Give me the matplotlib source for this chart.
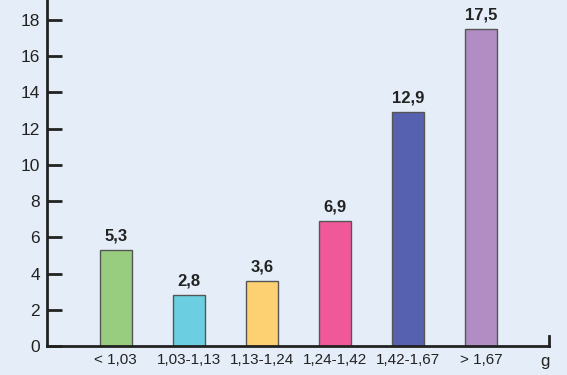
import matplotlib.pyplot as plt

categories = ["< 1,03", "1,03-1,13", "1,13-1,24", "1,24-1,42", "1,42-1,67", "> 1,67"]
values = [5.3, 2.8, 3.6, 6.9, 12.9, 17.5]
value_labels = ["5,3", "2,8", "3,6", "6,9", "12,9", "17,5"]
colors = ["#98cd80", "#6bcfe1", "#fdd072", "#f0589a", "#5661b0", "#b18dc4"]
yticks = [0, 2, 4, 6, 8, 10, 12, 14, 16, 18]

bg = "#e5eef8"
plt.rcParams["font.family"] = ["Liberation Sans", "DejaVu Sans"]

fig = plt.figure(figsize=(5.67, 3.75), dpi=100, facecolor=bg)
ax = fig.add_axes([0.083, 0.0773, 0.885, 0.9227], facecolor=bg)

x = list(range(len(categories)))
ax.bar(x, values, width=0.44, color=colors, edgecolor="#555555", linewidth=1.0, zorder=2)
for xi, v, lab in zip(x, values, value_labels):
    ax.text(xi, v + 0.35, lab, ha="center", va="bottom", fontsize=12,
            fontweight="bold", color="#222222")

ax.set_xlim(-0.94, 5.93)
ax.set_ylim(0, 19.1)
ax.set_yticks(yticks)
ax.set_yticklabels([str(t) for t in yticks], fontsize=12.5, color="#222222")
ax.set_xticks(x)
ax.set_xticklabels(categories, fontsize=11, color="#222222")
ax.tick_params(axis="x", length=0, pad=5)
ax.tick_params(axis="y", direction="in", length=11, width=2, color="#222222", pad=5)

for s in ["top", "right"]:
    ax.spines[s].set_visible(False)
for s in ["left", "bottom"]:
    ax.spines[s].set_linewidth(2)
    ax.spines[s].set_color("#222222")

# small upturn at the right end of the x axis
ax.plot([5.93, 5.93], [0, 0.55], color="#222222", lw=2, clip_on=False, zorder=3)

ax.text(5.87, -0.45, "g", ha="center", va="top", fontsize=12, color="#222222")

fig.savefig("out.png", dpi=100, facecolor=bg)
